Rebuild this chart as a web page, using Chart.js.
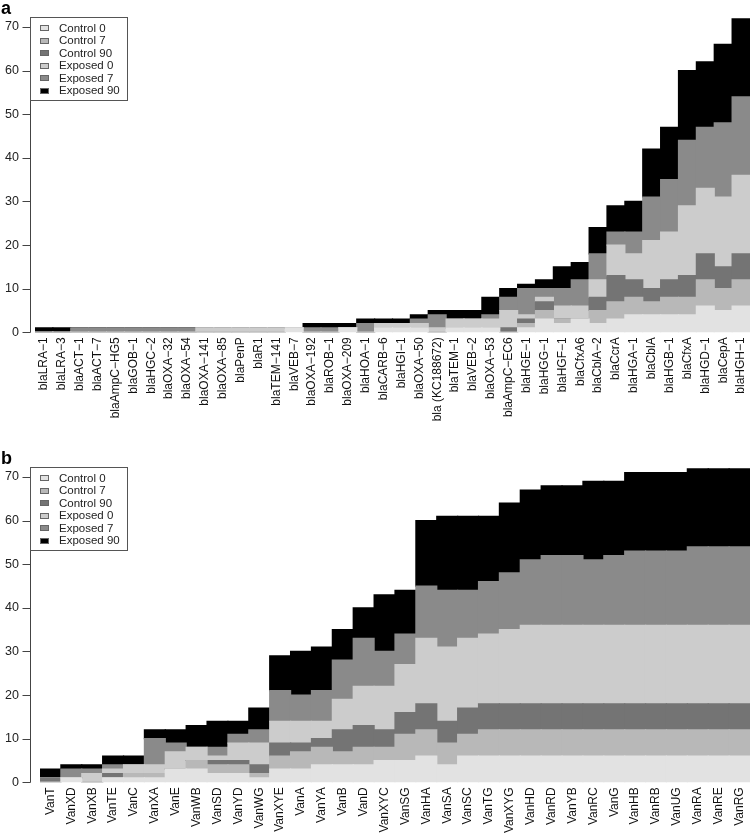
<!DOCTYPE html>
<html>
<head>
<meta charset="utf-8">
<script src="https://cdn.jsdelivr.net/npm/chart.js@4/dist/chart.umd.min.js"></script>
<style>
  body { margin: 0; background: #fff; }
  canvas { display: block; }
</style>
</head>
<body>
<canvas id="chartA" width="752" height="450"></canvas>
<canvas id="chartB" width="752" height="386"></canvas>
<script>
// series (stack order, bottom to top)
var seriesLabels = ['Control 0', 'Control 7', 'Control 90', 'Exposed 0', 'Exposed 7', 'Exposed 90'];
var seriesColors = ['#e2e2e2', '#b8b8b8', '#747474', '#cccccc', '#8a8a8a', '#000000'];
var yTicks = [0, 10, 20, 30, 40, 50, 60, 70];

// panel a - beta-lactamase genes
var blaGenes = ['blaLRA\u22121', 'blaLRA\u22123', 'blaACT\u22121', 'blaACT\u22127', 'blaAmpC\u2212HG5', 'blaGOB\u22121',
    'blaHGC\u22122', 'blaOXA\u221232', 'blaOXA\u221254', 'blaOXA\u2212141', 'blaOXA\u221285', 'blaPenP', 'blaR1',
    'blaTEM\u2212141', 'blaVEB\u22127', 'blaOXA\u2212192', 'blaROB\u22121', 'blaOXA\u2212209', 'blaHOA\u22121',
    'blaCARB\u22126', 'blaHGI\u22121', 'blaOXA\u221250', 'bla (KC188672)', 'blaTEM\u22121', 'blaVEB\u22122',
    'blaOXA\u221253', 'blaAmpC\u2212EC6', 'blaHGE\u22121', 'blaHGG\u22121', 'blaHGF\u22121', 'blaCfxA6',
    'blaCblA\u22122', 'blaCcrA', 'blaHGA\u22121', 'blaCblA', 'blaHGB\u22121', 'blaCfxA', 'blaHGD\u22121',
    'blaCepA', 'blaHGH\u22121'];
var blaControl0  = [0,0,0,0,0,0,0,0,0,0, 0,0,0,0,1,0,0,1,0,1, 1,1,0,1,1,1,0,1,3,2, 3,2,3,4,4,4,4,6,5,6];
var blaControl7  = [0,0,0,0,0,0,0,0,0,0, 0,0,0,0,0,0,0,0,0,0, 0,0,0,0,0,0,0,1,2,1, 0,3,4,4,3,4,4,6,5,6];
var blaControl90 = [0,0,0,0,0,0,0,0,0,0, 0,0,0,0,0,0,0,0,0,0, 0,0,0,0,0,0,1,1,2,0, 0,3,6,4,3,4,5,6,5,6];
var blaExposed0  = [0,0,0,0,0,0,0,0,0,1, 1,1,1,1,0,0,0,0,0,1, 1,1,1,2,2,2,4,1,1,3, 3,4,7,6,11,11,16,15,16,18];
var blaExposed7  = [0,0,1,1,1,1,1,1,1,0, 0,0,0,0,0,1,1,0,2,0, 0,1,3,0,0,1,3,6,2,4, 6,6,3,5,10,12,15,14,17,18];
var blaExposed90 = [1,1,0,0,0,0,0,0,0,0, 0,0,0,0,0,1,1,1,1,1, 1,1,1,2,2,4,2,1,2,5, 4,6,6,7,11,12,16,15,18,18];

// panel b - vancomycin resistance genes
var vanGenes = ['VanT', 'VanXD', 'VanXB', 'VanTE', 'VanC', 'VanXA', 'VanE', 'VanWB', 'VanSD', 'VanYD', 'VanWG',
    'VanXYE', 'VanA', 'VanYA', 'VanB', 'VanD', 'VanXYC', 'VanSG', 'VanHA', 'VanSA', 'VanSC', 'VanTG', 'VanXYG',
    'VanHD', 'VanRD', 'VanYB', 'VanRC', 'VanG', 'VanHB', 'VanRB', 'VanUG', 'VanRA', 'VanRE', 'VanRG'];
var vanControl0  = [0,1,0,1,1,1,3,3,2,2,1,3,3,4,4,4,5,5,6,4,6,6,6,6,6,6,6,6,6,6,6,6,6,6];
var vanControl7  = [0,0,0,0,1,1,0,2,2,2,1,3,4,4,3,4,3,6,6,5,5,6,6,6,6,6,6,6,6,6,6,6,6,6];
var vanControl90 = [1,0,0,1,0,0,0,0,1,1,2,3,2,2,5,5,4,5,6,5,6,6,6,6,6,6,6,6,6,6,6,6,6,6];
var vanExposed0  = [0,0,2,1,2,2,4,3,1,4,5,5,5,4,7,9,10,11,15,17,16,16,17,18,18,18,18,18,18,18,18,18,18,18];
var vanExposed7  = [0,2,1,1,0,6,2,0,2,2,3,7,6,7,9,11,8,7,12,13,11,12,13,15,16,16,15,16,17,17,17,18,18,18];
var vanExposed90 = [2,1,1,2,2,2,3,5,6,3,5,8,10,10,7,7,13,10,15,17,17,15,16,16,16,16,18,17,18,18,18,18,18,18];

var FONT = '"Liberation Sans", Arial, sans-serif';
var PLOT_BOTTOM = 332.3;

// R-like decorations: short y axis (0-70) with outward ticks, boxed legend, panel letter
var panelDecor = {
    id: 'panelDecor',
    afterDraw: function (chart, args, opts) {
        var ctx = chart.ctx;
        var y = chart.scales.y;
        ctx.save();
        ctx.strokeStyle = '#444';
        ctx.lineWidth = 1;
        ctx.beginPath();
        var ax = 30.5;
        ctx.moveTo(ax, Math.round(y.getPixelForValue(0)) + 0.5);
        ctx.lineTo(ax, Math.round(y.getPixelForValue(70)) + 0.5);
        yTicks.forEach(function (t) {
            var py = Math.round(y.getPixelForValue(t)) + 0.5;
            ctx.moveTo(ax - 8, py);
            ctx.lineTo(ax, py);
        });
        ctx.stroke();

        // legend box
        var bx = 30.5, by = 17.5, bw = 97, bh = 83;
        ctx.fillStyle = '#fff';
        ctx.fillRect(bx, by, bw, bh);
        ctx.strokeStyle = '#555';
        ctx.strokeRect(bx, by, bw, bh);
        ctx.font = '11.5px ' + FONT;
        ctx.textBaseline = 'middle';
        chart.data.datasets.forEach(function (ds, i) {
            var cy = 28.3 + i * 12.5;
            ctx.fillStyle = ds.backgroundColor;
            ctx.fillRect(40, Math.round(cy) - 3, 9, 6);
            ctx.strokeStyle = '#666';
            ctx.strokeRect(40.5, Math.round(cy) - 2.5, 8, 5);
            ctx.fillStyle = '#222';
            ctx.fillText(ds.label, 59, cy + 0.5);
        });

        // panel letter
        ctx.font = 'bold 18px ' + FONT;
        ctx.fillStyle = '#000';
        ctx.textBaseline = 'alphabetic';
        ctx.fillText(opts.letter, 1, 13.5);
        ctx.restore();
    }
};

function makePanel(canvasId, genes, series, letter, plotLeft) {
    var canvas = document.getElementById(canvasId);
    var datasets = series.map(function (values, i) {
        return {
            label: seriesLabels[i],
            data: values,
            backgroundColor: seriesColors[i],
            borderWidth: 0,
            inflateAmount: 0.6,
            barPercentage: 1,
            categoryPercentage: 1
        };
    });
    return new Chart(canvas.getContext('2d'), {
        type: 'bar',
        data: { labels: genes, datasets: datasets },
        options: {
            responsive: false,
            animation: false,
            devicePixelRatio: 1,
            layout: { padding: { top: 18.3, right: 2, left: 0, bottom: 0 } },
            plugins: {
                legend: { display: false },
                tooltip: { enabled: false },
                panelDecor: { letter: letter }
            },
            scales: {
                x: {
                    stacked: true,
                    grid: { display: false, drawTicks: false },
                    border: { display: false },
                    ticks: {
                        autoSkip: false,
                        maxRotation: 90,
                        minRotation: 90,
                        padding: 5,
                        color: '#111',
                        font: { family: FONT, size: 12 }
                    },
                    afterFit: function (scale) {
                        scale.height = canvas.height - PLOT_BOTTOM;
                        scale.paddingLeft = 0;
                        scale.paddingRight = 0;
                    }
                },
                y: {
                    stacked: true,
                    min: 0,
                    max: 72,
                    grid: { display: false, drawTicks: false },
                    border: { display: false },
                    ticks: {
                        stepSize: 10,
                        includeBounds: false,
                        padding: plotLeft - 19,
                        color: '#222',
                        font: { family: FONT, size: 12.5 }
                    },
                    afterFit: function (scale) {
                        scale.width = plotLeft;
                        scale.paddingTop = 0;
                        scale.paddingBottom = 0;
                    }
                }
            }
        },
        plugins: [panelDecor]
    });
}

makePanel('chartA', blaGenes,
    [blaControl0, blaControl7, blaControl90, blaExposed0, blaExposed7, blaExposed90], 'a', 35);
makePanel('chartB', vanGenes,
    [vanControl0, vanControl7, vanControl90, vanExposed0, vanExposed7, vanExposed90], 'b', 40);
</script>
</body>
</html>
